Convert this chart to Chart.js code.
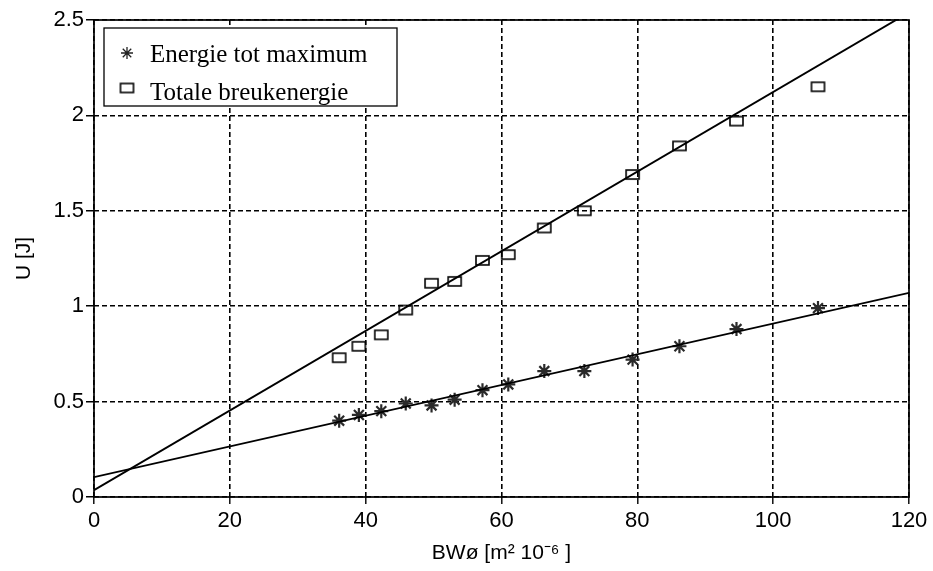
<!DOCTYPE html>
<html>
<head>
<meta charset="utf-8">
<script src="https://cdn.jsdelivr.net/npm/chart.js@4/dist/chart.umd.min.js"></script>
<style>
  html, body { margin: 0; padding: 0; background: #fff; }
  #wrap { width: 933px; height: 571px; position: relative; }
</style>
</head>
<body>
<div id="wrap"><canvas id="c" width="933" height="571"></canvas></div>
<script>
// Specimen cross-section (BWø) and the energies measured for each specimen
const bwArea = [36.1, 39.0, 42.3, 45.9, 49.7, 53.1, 57.2, 61.0, 66.3, 72.2, 79.3, 86.2, 94.6, 106.6];
const energyMax = [0.40, 0.43, 0.45, 0.49, 0.48, 0.51, 0.56, 0.59, 0.66, 0.66, 0.72, 0.79, 0.88, 0.99];
const fractureEnergy = [0.73, 0.79, 0.85, 0.98, 1.12, 1.13, 1.24, 1.27, 1.41, 1.50, 1.69, 1.84, 1.97, 2.15];

// End points of the two regression lines
const fitX = [0, 120];
const fitMaxY = [0.104, 1.07];
const fitFractureY = [0.036, 2.54];

const seriesNames = ['Energie tot maximum', 'Totale breukenergie'];
const xTicks = [0, 20, 40, 60, 80, 100, 120];
const yTicks = [0, 0.5, 1, 1.5, 2, 2.5];

const pairs = (xs, ys) => xs.map((x, i) => ({ x: x, y: ys[i] }));

// Open rectangle marker
function makeBoxMarker() {
  const c = document.createElement('canvas');
  c.width = 17; c.height = 13;
  const g = c.getContext('2d');
  g.strokeStyle = '#000';
  g.lineWidth = 1.6;
  g.strokeRect(2, 2, 13, 9);
  return c;
}
const boxMarker = makeBoxMarker();

const sans = '"Liberation Sans", Arial, Helvetica, sans-serif';
const serif = '"Liberation Serif", "Times New Roman", serif';

// Solid frame around the plot area
const framePlugin = {
  id: 'frame',
  afterDraw(chart) {
    const a = chart.chartArea, ctx = chart.ctx;
    ctx.save();
    ctx.strokeStyle = '#000';
    ctx.lineWidth = 1.7;
    ctx.strokeRect(a.left, a.top, a.right - a.left, a.bottom - a.top);
    ctx.restore();
  }
};

// Boxed legend in the upper left corner of the plot
const boxLegendPlugin = {
  id: 'boxLegend',
  afterDraw(chart) {
    const a = chart.chartArea, ctx = chart.ctx;
    const x0 = a.left + 10, y0 = a.top + 8, w = 293, h = 78;
    ctx.save();
    ctx.fillStyle = '#fff';
    ctx.fillRect(x0, y0, w, h);
    ctx.strokeStyle = '#000';
    ctx.lineWidth = 1.3;
    ctx.strokeRect(x0, y0, w, h);

    ctx.strokeStyle = '#222';
    ctx.fillStyle = '#222';
    Chart.helpers.drawPoint(ctx, {
      pointStyle: 'star', radius: 6, borderWidth: 1.8, rotation: 0
    }, x0 + 23, y0 + 25);
    ctx.drawImage(boxMarker, x0 + 23 - 8.5, y0 + 60 - 6.5);

    ctx.fillStyle = '#000';
    ctx.font = '25px ' + serif;
    ctx.textBaseline = 'alphabetic';
    ctx.textAlign = 'left';
    ctx.fillText(seriesNames[0], x0 + 46, y0 + 34);
    ctx.fillText(seriesNames[1], x0 + 46, y0 + 72);
    ctx.restore();
  }
};

const gridStyle = {
  color: '#000', lineWidth: 1.6,
  tickBorderDash: [1, 0], tickColor: '#000', tickWidth: 1.4
};

new Chart(document.getElementById('c'), {
  type: 'scatter',
  data: {
    datasets: [
      {
        label: seriesNames[0],
        data: pairs(bwArea, energyMax),
        pointStyle: 'star',
        pointRadius: 7,
        pointHoverRadius: 7,
        pointBorderWidth: 2.2,
        borderColor: '#2a2a2a',
        backgroundColor: '#2a2a2a',
        order: 1
      },
      {
        label: seriesNames[1],
        data: pairs(bwArea, fractureEnergy),
        pointStyle: boxMarker,
        pointRadius: 7,
        borderColor: '#000',
        backgroundColor: 'transparent',
        order: 1
      },
      {
        label: 'fit max',
        data: pairs(fitX, fitMaxY),
        showLine: true,
        pointRadius: 0,
        borderColor: '#000',
        borderWidth: 1.9,
        clip: 0,
        order: 0
      },
      {
        label: 'fit total',
        data: pairs(fitX, fitFractureY),
        showLine: true,
        pointRadius: 0,
        borderColor: '#000',
        borderWidth: 1.9,
        clip: 0,
        order: 0
      }
    ]
  },
  options: {
    responsive: false,
    animation: false,
    devicePixelRatio: 1,
    layout: { padding: { left: 0, top: 20, right: 24, bottom: 0 } },
    plugins: {
      legend: { display: false },
      tooltip: { enabled: false }
    },
    scales: {
      x: {
        type: 'linear',
        min: 0, max: 120,
        afterBuildTicks(s) { s.ticks = xTicks.map(v => ({ value: v })); },
        afterFit(s) { s.height = 74; },
        grid: Object.assign({ tickLength: 7 }, gridStyle),
        border: { display: false, dash: [5, 3] },
        ticks: { color: '#000', font: { family: sans, size: 22 }, padding: 4, maxRotation: 0 },
        title: {
          display: true, text: 'BWø [m² 10⁻⁶ ]', color: '#000',
          font: { family: sans, size: 21 }, padding: { top: 0, bottom: 5 }
        }
      },
      y: {
        type: 'linear',
        min: 0, max: 2.5,
        afterBuildTicks(s) { s.ticks = yTicks.map(v => ({ value: v })); },
        afterFit(s) { s.width = 94; },
        grid: Object.assign({ tickLength: 8 }, gridStyle),
        border: { display: false, dash: [5, 3] },
        ticks: {
          color: '#000', font: { family: sans, size: 22 }, padding: 2,
          callback: v => String(v)
        },
        title: {
          display: true, text: 'U [J]', color: '#000',
          font: { family: sans, size: 21 }, padding: { top: 12, bottom: 0 }
        }
      }
    }
  },
  plugins: [framePlugin, boxLegendPlugin]
});
</script>
</body>
</html>
